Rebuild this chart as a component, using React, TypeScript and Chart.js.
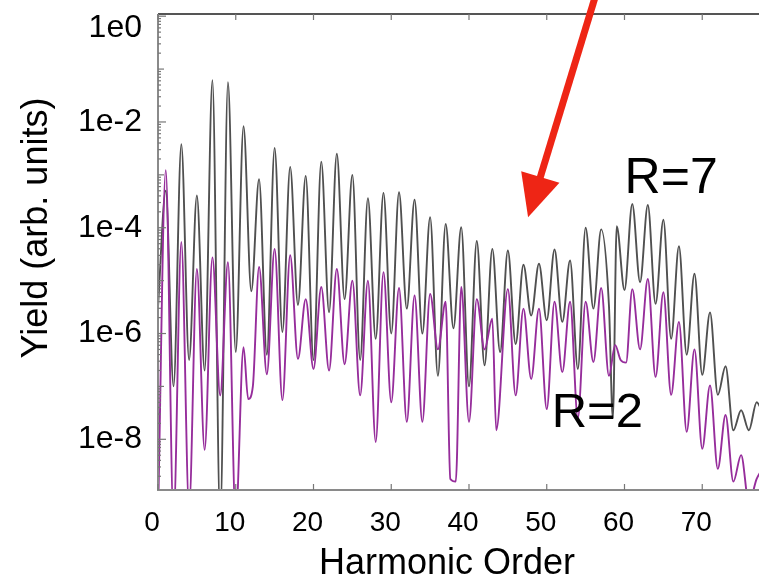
import React, { useEffect, useRef } from "react";
import { Chart, registerables } from "chart.js";

Chart.register(...registerables);

// Harmonic orders and log10(yield) for the R=7 (gray) curve
const orderR7 = [
  0, 1, 2, 3, 4, 5, 6, 7, 8, 9, 10, 11, 12, 13, 14, 15, 16, 17, 18, 19, 20,
  21, 22, 23, 24, 25, 26, 27, 28, 29, 30, 31, 32, 33, 34, 35, 36, 37, 38, 39, 40,
  41, 42, 43, 44, 45, 46, 47, 48, 49, 50, 51, 52, 53, 54, 55, 56, 57, 58, 58.5, 59, 60,
  61, 62, 63, 64, 65, 66, 67, 68, 69, 70, 71, 72, 73, 74, 75, 76, 77, 78,
];
const logR7 = [
  -5.5, -3.3, -7.0, -2.42, -6.5, -3.39, -6.7, -1.21, -9.5, -1.25, -6.35, -2.08, -5.2, -3.08, -6.4, -2.49, -5.97, -2.85, -5.46, -3.02, -6.5,
  -2.75, -5.6, -2.6, -5.35, -3.0, -6.5, -3.44, -6.1, -3.34, -6.0, -3.33, -5.53, -3.47, -6.0, -3.8, -6.8, -3.93, -5.9, -3.99, -7.0,
  -4.25, -6.6, -4.4, -6.35, -4.43, -6.2, -4.7, -5.66, -4.68, -5.75, -4.41, -5.78, -4.62, -6.67, -4.0, -5.53, -4.03, -5.47, -7.6, -3.97, -5.18,
  -3.55, -5.03, -3.57, -5.44, -3.85, -6.1, -4.35, -6.4, -4.87, -6.78, -5.6, -7.16, -6.62, -7.83, -7.45, -7.83, -7.3, -7.6,
];

// Harmonic orders and log10(yield) for the R=2 (purple) curve
const orderR2 = [
  0, 1, 2, 3, 4, 5, 6, 7, 8, 9, 10, 11, 11.6, 12.2, 13, 14, 15, 16, 17, 18, 19, 20,
  21, 22, 23, 24, 25, 26, 27, 28, 29, 30, 31, 32, 33, 34, 35, 36, 37, 37.6, 38.3, 39, 40,
  41, 42, 43, 43.5, 45, 46, 47, 48, 49, 50, 51, 52, 53, 54, 55, 56, 57, 58, 58.8, 59.5, 60.2,
  61, 62, 63, 64, 65, 66, 67, 68, 69, 70, 71, 72, 73, 74, 75, 76, 77, 78,
];
const logR2 = [
  -9.5, -2.91, -9.5, -4.27, -9.3, -4.78, -8.2, -4.56, -7.17, -4.65, -9.5, -6.26, -7.24, -7.0, -4.74, -6.77, -4.4, -7.26, -4.52, -6.48, -5.35, -6.67,
  -5.12, -6.7, -4.78, -6.58, -5.0, -7.17, -5.0, -8.05, -4.84, -7.3, -5.14, -7.67, -5.28, -7.67, -5.25, -6.3, -5.4, -8.75, -8.8, -5.12, -7.67,
  -5.35, -6.3, -5.72, -7.83, -5.16, -7.17, -5.53, -6.86, -5.53, -7.43, -5.4, -6.73, -5.4, -7.6, -5.4, -6.54, -5.14, -6.8, -6.22, -6.5, -6.55,
  -5.16, -6.3, -4.97, -6.82, -5.22, -7.16, -5.78, -7.86, -6.3, -8.18, -6.98, -8.56, -7.54, -8.8, -8.3, -9.2, -8.75, -8.5,
];

const xTicks = [0, 10, 20, 30, 40, 50, 60, 70];
const yTicks = [1e0, 1e-2, 1e-4, 1e-6, 1e-8];
const yTickLabels = ["1e0", "1e-2", "1e-4", "1e-6", "1e-8"];

const xTitle = "Harmonic Order";
const yTitle = "Yield (arb. units)";

// annotations in data coordinates
const labelR7 = { text: "R=7", x: 66.0, y: Math.pow(10, -3.34) };
const labelR2 = { text: "R=2", x: 56.5, y: Math.pow(10, -7.77) };
const arrowTail = { x: 56.3, y: Math.pow(10, 0.4) };
const arrowTip = { x: 47.6, y: Math.pow(10, -3.8) };

const FONT = '"Liberation Sans", Arial, sans-serif';

const framePlugin = {
  id: "frame",
  afterDatasetsDraw(chart: any) {
    const ctx = chart.ctx as CanvasRenderingContext2D;
    const xs = chart.scales.x;
    const ys = chart.scales.y;
    const a = chart.chartArea;
    ctx.save();

    // frame lines
    ctx.lineWidth = 2;
    ctx.strokeStyle = "#555";
    ctx.beginPath();
    ctx.moveTo(a.left, a.top);
    ctx.lineTo(a.right + 2, a.top);
    ctx.stroke();
    ctx.strokeStyle = "#8a8a8a";
    ctx.beginPath();
    ctx.moveTo(a.left, a.top);
    ctx.lineTo(a.left, a.bottom);
    ctx.lineTo(a.right + 2, a.bottom);
    ctx.stroke();

    // x ticks (inward, top and bottom)
    ctx.lineWidth = 1.2;
    ctx.strokeStyle = "#777";
    for (const v of xTicks) {
      const px = xs.getPixelForValue(v);
      ctx.beginPath();
      ctx.moveTo(px, a.bottom);
      ctx.lineTo(px, a.bottom - 6);
      ctx.moveTo(px, a.top);
      ctx.lineTo(px, a.top + 6);
      ctx.stroke();
    }
    // y ticks (major and minor, inward)
    for (let e = -9; e <= 0; e++) {
      for (let m = 1; m <= 9; m++) {
        const v = m * Math.pow(10, e);
        if (v < ys.min || v > ys.max) continue;
        const py = ys.getPixelForValue(v);
        const len = m === 1 ? (e % 2 === 0 ? 8 : 6) : 3;
        ctx.beginPath();
        ctx.moveTo(a.left, py);
        ctx.lineTo(a.left + len, py);
        ctx.stroke();
      }
    }

    // tick labels
    ctx.fillStyle = "#000";
    ctx.font = `28px ${FONT}`;
    ctx.textAlign = "center";
    ctx.textBaseline = "middle";
    for (const v of xTicks) {
      ctx.fillText(String(v), xs.getPixelForValue(v) - 6, a.bottom + 33);
    }
    ctx.font = `32px ${FONT}`;
    ctx.textAlign = "right";
    yTicks.forEach((v, i) => {
      let py = ys.getPixelForValue(v);
      if (py < a.top + 14) py = a.top + 14;
      ctx.fillText(yTickLabels[i], a.left - 16, py);
    });

    // axis titles
    ctx.font = `36px ${FONT}`;
    ctx.textAlign = "center";
    ctx.textBaseline = "alphabetic";
    ctx.fillText(xTitle, 447, a.bottom + 84);
    ctx.save();
    ctx.translate(47, 228);
    ctx.rotate(-Math.PI / 2);
    ctx.fillText(yTitle, 0, 0);
    ctx.restore();

    // curve labels
    ctx.font = `50px ${FONT}`;
    ctx.fillText(labelR7.text, xs.getPixelForValue(labelR7.x), ys.getPixelForValue(labelR7.y));
    ctx.font = `49px ${FONT}`;
    ctx.fillText(labelR2.text, xs.getPixelForValue(labelR2.x), ys.getPixelForValue(labelR2.y));

    // red arrow
    const tx = xs.getPixelForValue(arrowTail.x);
    const ty = ys.getPixelForValue(arrowTail.y);
    const hx = xs.getPixelForValue(arrowTip.x);
    const hy = ys.getPixelForValue(arrowTip.y);
    const ang = Math.atan2(hy - ty, hx - tx);
    const headLen = 42;
    const headHalf = 20;
    const bx = hx - headLen * Math.cos(ang);
    const by = hy - headLen * Math.sin(ang);
    ctx.strokeStyle = "#ee2515";
    ctx.fillStyle = "#ee2515";
    ctx.lineWidth = 7;
    ctx.lineCap = "butt";
    ctx.beginPath();
    ctx.moveTo(tx, ty);
    ctx.lineTo(bx + 2 * Math.cos(ang), by + 2 * Math.sin(ang));
    ctx.stroke();
    ctx.beginPath();
    ctx.moveTo(hx, hy);
    ctx.lineTo(bx + headHalf * Math.sin(ang), by - headHalf * Math.cos(ang));
    ctx.lineTo(bx - headHalf * Math.sin(ang), by + headHalf * Math.cos(ang));
    ctx.closePath();
    ctx.fill();

    ctx.restore();
  },
};

export default function App() {
  const ref = useRef<HTMLCanvasElement | null>(null);
  useEffect(() => {
    if (!ref.current) return;
    const r2 = orderR2.map((x, i) => ({ x, y: Math.pow(10, logR2[i]) }));
    const r7 = orderR7.map((x, i) => ({ x, y: Math.pow(10, logR7[i]) }));
    const chart = new Chart(ref.current, {
      type: "line",
      data: {
        datasets: [
          {
            label: "R=2",
            data: r2,
            borderColor: "rgb(150,45,155)",
            borderWidth: 1.9,
            pointRadius: 0,
            cubicInterpolationMode: "monotone",
            fill: false,
          },
          {
            label: "R=7",
            data: r7,
            borderColor: "rgb(80,80,80)",
            borderWidth: 1.9,
            pointRadius: 0,
            cubicInterpolationMode: "monotone",
            fill: false,
          },
        ],
      },
      options: {
        responsive: false,
        animation: false,
        events: [],
        layout: { padding: { left: 158, top: 14, right: 0, bottom: 91 } },
        plugins: { legend: { display: false }, tooltip: { enabled: false } },
        scales: {
          x: { type: "linear", min: 0, max: 77.3, display: false },
          y: { type: "logarithmic", min: 1.1e-9, max: 1.1, display: false },
        },
      },
      plugins: [framePlugin],
    });
    return () => chart.destroy();
  }, []);
  return (
    <div style={{ position: "fixed", left: 0, top: 0, width: 759, height: 581, background: "#fff" }}>
      <canvas ref={ref} width={759} height={581} />
    </div>
  );
}
